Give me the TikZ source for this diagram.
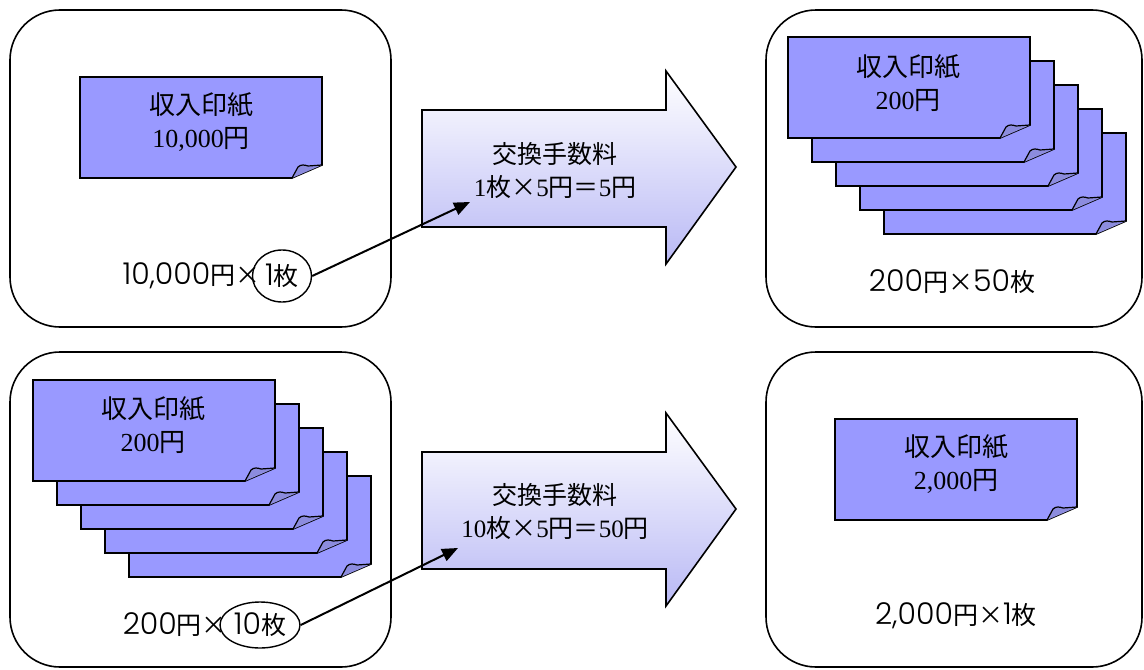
\documentclass[tikz,border=0pt]{standalone}
\usepackage{fontspec}
\setmainfont{Liberation Serif}
\newfontfamily\jp{Noto Sans CJK JP}
\newfontfamily\pop{Poppins Light}
\usetikzlibrary{shapes.geometric,arrows.meta,positioning}

% round digits inside the counting labels
\newcommand\dg[1]{{\pop\fontsize{15}{15}\selectfont #1}}

\definecolor{stampblue}{RGB}{153,153,255}
\definecolor{foldblue}{RGB}{140,140,222}
\definecolor{arrowblue}{RGB}{185,185,245}

\tikzset{
  box/.style={draw, line width=0.8pt, rounded corners=25pt},
  stxt/.style={align=center, font=\fontsize{13}{16.5}\selectfont, inner sep=0pt},
  fee/.style={align=center, font=\fontsize{12.5}{16.5}\selectfont, inner sep=0pt},
  lbl/.style={font=\jp\fontsize{12.5}{14}\selectfont, inner sep=0pt},
  cnt/.style={draw, ellipse, line width=0.7pt, inner sep=0pt, font=\jp\fontsize{12.5}{14}\selectfont},
  link/.style={line width=1pt, -{Triangle[length=8pt, width=6.5pt]}},
  bigarrow/.style={draw, line width=0.8pt, top color=white, bottom color=arrowblue},
  % one stamp, origin at its top left corner
  stamp/.pic={
    \draw[fill=stampblue, line width=0.8pt] (0,0) -- (242,0) -- (242,88) -- (212,101) -- (0,101) -- cycle;
    \draw[fill=foldblue, line width=0.6pt] (212,101) -- (218,90) .. controls (221,87) and (225,88) .. (228,89) -- (242,88);
  }
}

\begin{document}
\begin{tikzpicture}[x=0.5pt, y=-0.5pt]
\useasboundingbox (0,0) rectangle (1144,669);

% --- 10,000 yen -> 50 x 200 yen ---
\draw[box] (10,10) rectangle (391,327);
\pic at (80,77) {stamp};
\node[stxt] (s1) at (201,122) {{\jp 収入印紙}\\10,000{\jp 円}};
\node[cnt, minimum width=29.5pt, minimum height=26pt] (cnt1) at (282,276) {\dg{1}枚};
\node[lbl, anchor=east] (sum1) at ([xshift=4.5pt]cnt1.west) {\dg{10,000}円×};

\shade[bigarrow] (422,110) -- (666,110) -- (666,71) -- (736,167) -- (666,264) -- (666,227) -- (422,227) -- cycle;
\node[fee] (fee1) at (555,171) {{\jp 交換手数料}\\1{\jp 枚×}5{\jp 円＝}5{\jp 円}};
\coordinate (in1) at (470,202);
\draw[link] (cnt1.east) -- (in1);

\draw[box] (766,10) rectangle (1142,327);
\foreach \i in {4,3,2,1,0}
  \pic at ({788+24*\i},{37+24*\i}) {stamp};
\node[stxt] (s2) at (908,83) {{\jp 収入印紙}\\200{\jp 円}};
\node[lbl] (sum2) at (952,282) {\dg{200}円×\dg{50}枚};

% --- 10 x 200 yen -> 2,000 yen ---
\draw[box] (10,352) rectangle (391,667);
\foreach \i in {4,3,2,1,0}
  \pic at ({33+24*\i},{380+24*\i}) {stamp};
\node[stxt] (s3) at (153,425) {{\jp 収入印紙}\\200{\jp 円}};
\node[cnt, minimum width=40pt, minimum height=23pt] (cnt2) at (260,625) {\dg{10}枚};
\node[lbl, anchor=east] (sum3) at ([xshift=4pt]cnt2.west) {\dg{200}円×};

\shade[bigarrow] (422,452) -- (666,452) -- (666,413) -- (736,509) -- (666,606) -- (666,569) -- (422,569) -- cycle;
\node[fee] (fee2) at (555,512) {{\jp 交換手数料}\\10{\jp 枚×}5{\jp 円＝}50{\jp 円}};
\coordinate (in2) at (458,548);
\draw[link] (cnt2.east) -- (in2);

\draw[box] (766,352) rectangle (1142,667);
\pic at (835,419) {stamp};
\node[stxt] (s4) at (956,464) {{\jp 収入印紙}\\2,000{\jp 円}};
\node[lbl] (sum4) at (956,616) {\dg{2,000}円×\dg{1}枚};

\end{tikzpicture}
\end{document}
